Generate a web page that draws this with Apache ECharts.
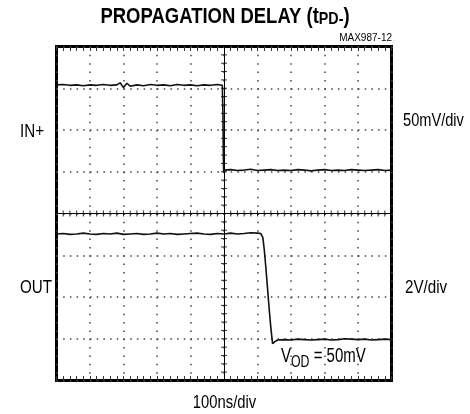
<!DOCTYPE html>
<html>
<head>
<meta charset="utf-8">
<script src="https://cdn.jsdelivr.net/npm/echarts@6/dist/echarts.min.js"></script>
<style>
  html, body { margin: 0; padding: 0; background: #fff; }
  #chart { width: 470px; height: 414px; }
</style>
</head>
<body>
<div id="chart"></div>
<script>
// time in ns (centre of screen = 0), level in divisions (centre = 0)
var inTime = [-500,-480,-460,-440,-420,-400,-380,-360,-340,-320,-310,-300,-290,-280,-260,-240,-220,-200,-180,-160,-140,-120,-100,-80,-60,-40,-20,-5,-3,-2,-1,0,
  20,40,60,80,100,120,140,160,180,200,220,240,260,280,300,320,340,360,380,400,420,440,460,480,500];
var inDiv = [3.08,3.09,3.07,3.08,3.06,3.08,3.07,3.09,3.07,3.08,3.13,3.02,3.12,3.05,3.08,3.06,3.09,3.07,3.08,3.06,3.09,3.07,3.08,3.06,3.08,3.07,3.09,3.07,2.3,1.4,0.98,1.04,
  1.05,1.03,1.04,1.06,1.03,1.04,1.05,1.03,1.04,1.03,1.05,1.04,1.02,1.04,1.05,1.03,1.04,1.03,1.05,1.04,1.03,1.04,1.05,1.03,1.04];

var outTime = [-500,-480,-460,-440,-420,-400,-380,-360,-340,-320,-300,-280,-260,-240,-220,-200,-180,-160,-140,-120,-100,-80,-60,-40,-20,0,20,40,60,80,100,
  110,116,120,125,130,135,140,145,148,152,160,
  180,200,220,240,260,280,300,320,340,360,380,400,420,440,460,480,500];
var outDiv = [-0.49,-0.48,-0.50,-0.49,-0.47,-0.49,-0.50,-0.48,-0.49,-0.47,-0.50,-0.49,-0.48,-0.50,-0.49,-0.47,-0.49,-0.48,-0.50,-0.49,-0.48,-0.47,-0.49,-0.50,-0.48,-0.49,-0.47,-0.49,-0.48,-0.46,-0.47,
  -0.48,-0.58,-0.85,-1.3,-1.8,-2.3,-2.75,-3.12,-3.16,-3.07,-3.03,
  -3.02,-3.03,-3.01,-3.02,-3.03,-3.02,-3.01,-3.03,-3.02,-3.00,-3.01,-3.02,-3.01,-3.03,-3.02,-3.01,-3.02];

var xRange = [-500, 500];   // 10 divisions of 100ns
var yRange = [-4, 4];       // 8 divisions

// graticule sub-division marks on the two centre lines (5 per division)
var xMinorTicks = [-480,-460,-440,-420,-400,-380,-360,-340,-320,-300,-280,-260,-240,-220,-200,-180,-160,-140,-120,-100,-80,-60,-40,-20,
  20,40,60,80,100,120,140,160,180,200,220,240,260,280,300,320,340,360,380,400,420,440,460,480];
var yMinorTicks = [-3.8,-3.6,-3.4,-3.2,-3,-2.8,-2.6,-2.4,-2.2,-2,-1.8,-1.6,-1.4,-1.2,-1,-0.8,-0.6,-0.4,-0.2,
  0.2,0.4,0.6,0.8,1,1.2,1.4,1.6,1.8,2,2.2,2.4,2.6,2.8,3,3.2,3.4,3.6,3.8];

var titleText = '{a|PROPAGATION DELAY (t}{b|PD-}{a|)}';
var figId = 'MAX987-12';
var topName = 'IN+';
var topScale = '50mV/div';
var botName = 'OUT';
var botScale = '2V/div';
var timeScale = '100ns/div';
var vodText = '{v|V}{s|OD}{v| = 50mV}';

var FONT = 'Liberation Sans, Arial, sans-serif';

function toPairs(t, v) {
  return t.map(function (x, i) { return [x, v[i]]; });
}

// dotted graticule of the main screen
function gridAxis(range, step, dash) {
  return {
    type: 'value', gridIndex: 0, min: range[0], max: range[1], interval: step,
    axisLine: { show: false }, axisTick: { show: false }, axisLabel: { show: false },
    splitLine: { show: true, lineStyle: { color: '#444', width: 1.5, type: dash } }
  };
}
// plain centre line
function lineAxis(range, step, grid, pos) {
  return {
    type: 'value', gridIndex: grid, min: range[0], max: range[1], interval: step, position: pos,
    axisLine: { show: true, onZero: false, lineStyle: { color: '#000', width: 1 } },
    axisTick: { show: false }, axisLabel: { show: false }, splitLine: { show: false }
  };
}
// thin strip whose split lines make the small tick marks along the frame edges
function stripAxis(range, step, grid, color) {
  return {
    type: 'value', gridIndex: grid, min: range[0], max: range[1], interval: step,
    axisLine: { show: false }, axisTick: { show: false }, axisLabel: { show: false },
    minorTick: { show: false, splitNumber: 5 },
    splitLine: { show: true, lineStyle: { color: color, width: 1 } },
    minorSplitLine: { show: true, lineStyle: { color: color, width: 1 } }
  };
}
function hiddenAxis(grid) {
  return { type: 'value', gridIndex: grid, min: 0, max: 1, show: false };
}

var chart = echarts.init(document.getElementById('chart'), null, { width: 470, height: 414 });

var option = {
  animation: false,
  backgroundColor: '#fff',
  grid: [
    { left: 56.5, top: 46.5, width: 335, height: 334, show: true, borderColor: '#000', borderWidth: 3 }, // screen
    { left: 56.5, top: 213.5, width: 335, height: 0 },   // horizontal centre line
    { left: 224, top: 46.5, width: 0, height: 334 },     // vertical centre line
    { left: 56.5, top: 46.5, width: 335, height: 4.5 },  // ticks under top edge
    { left: 56.5, top: 376, width: 335, height: 4.5 }    // ticks over bottom edge
  ],
  xAxis: [
    gridAxis(xRange, 100, [1.5, 6.85]),
    lineAxis(xRange, 100, 1, 'bottom'),
    hiddenAxis(2),
    stripAxis(xRange, 100, 3, '#333'),
    stripAxis(xRange, 100, 4, '#333')
  ],
  yAxis: [
    gridAxis(yRange, 1, [1.5, 5.2]),
    hiddenAxis(1),
    lineAxis(yRange, 1, 2, 'left'),
    hiddenAxis(3),
    hiddenAxis(4)
  ],
  series: [{
    name: 'xTicks',
    type: 'scatter',
    xAxisIndex: 0, yAxisIndex: 0,
    symbol: 'rect', symbolSize: [1, 6],
    itemStyle: { color: '#000' },
    silent: true,
    data: xMinorTicks.map(function (x) { return [x, 0]; }),
    z: 3
  }, {
    name: 'yTicks',
    type: 'scatter',
    xAxisIndex: 0, yAxisIndex: 0,
    symbol: 'rect', symbolSize: [6, 1],
    itemStyle: { color: '#000' },
    silent: true,
    data: yMinorTicks.map(function (y) { return [0, y]; }),
    z: 3
  }, {
    name: 'IN+',
    type: 'line',
    xAxisIndex: 0, yAxisIndex: 0,
    showSymbol: false,
    lineStyle: { color: '#111', width: 1.6 },
    data: toPairs(inTime, inDiv),
    z: 5
  }, {
    name: 'OUT',
    type: 'line',
    xAxisIndex: 0, yAxisIndex: 0,
    showSymbol: false,
    lineStyle: { color: '#111', width: 1.6 },
    data: toPairs(outTime, outDiv),
    z: 5
  }],
  graphic: [
    {
      type: 'text', x: 225, y: 17, scaleX: 0.84,
      style: {
        text: titleText, fill: '#000',
        align: 'center', verticalAlign: 'middle', textAlign: 'center', textVerticalAlign: 'middle',
        rich: {
          a: { fontSize: 22, fontWeight: 'bold', fontFamily: FONT, lineHeight: 22, verticalAlign: 'top', fill: '#000' },
          b: { fontSize: 17, fontWeight: 'bold', fontFamily: FONT, lineHeight: 16, verticalAlign: 'bottom', fill: '#000' }
        }
      }
    },
    { type: 'text', x: 392, y: 38, style: { text: figId, font: '10px ' + FONT, fill: '#000', align: 'right', verticalAlign: 'middle', textAlign: 'right', textVerticalAlign: 'middle' } },
    { type: 'text', x: 20, y: 132, scaleX: 0.82, style: { text: topName, font: '18.5px ' + FONT, fill: '#000', align: 'left', verticalAlign: 'middle', textAlign: 'left', textVerticalAlign: 'middle' } },
    { type: 'text', x: 403, y: 121, scaleX: 0.79, style: { text: topScale, font: '18.5px ' + FONT, fill: '#000', align: 'left', verticalAlign: 'middle', textAlign: 'left', textVerticalAlign: 'middle' } },
    { type: 'text', x: 20, y: 288, scaleX: 0.82, style: { text: botName, font: '18.5px ' + FONT, fill: '#000', align: 'left', verticalAlign: 'middle', textAlign: 'left', textVerticalAlign: 'middle' } },
    { type: 'text', x: 405, y: 288, scaleX: 0.82, style: { text: botScale, font: '18.5px ' + FONT, fill: '#000', align: 'left', verticalAlign: 'middle', textAlign: 'left', textVerticalAlign: 'middle' } },
    { type: 'text', x: 224.5, y: 403, scaleX: 0.8, style: { text: timeScale, font: '18.5px ' + FONT, fill: '#000', align: 'center', verticalAlign: 'middle', textAlign: 'center', textVerticalAlign: 'middle' } },
    {
      type: 'text', x: 281, y: 359, scaleX: 0.77, z: 10,
      style: {
        text: vodText, fill: '#000',
        align: 'left', verticalAlign: 'middle', textAlign: 'left', textVerticalAlign: 'middle',
        rich: {
          v: { fontSize: 19.5, fontFamily: FONT, lineHeight: 24, verticalAlign: 'top', fill: '#000' },
          s: { fontSize: 16, fontFamily: FONT, lineHeight: 16, verticalAlign: 'bottom', fill: '#000' }
        }
      }
    }
  ]
};

chart.setOption(option);
</script>
</body>
</html>
